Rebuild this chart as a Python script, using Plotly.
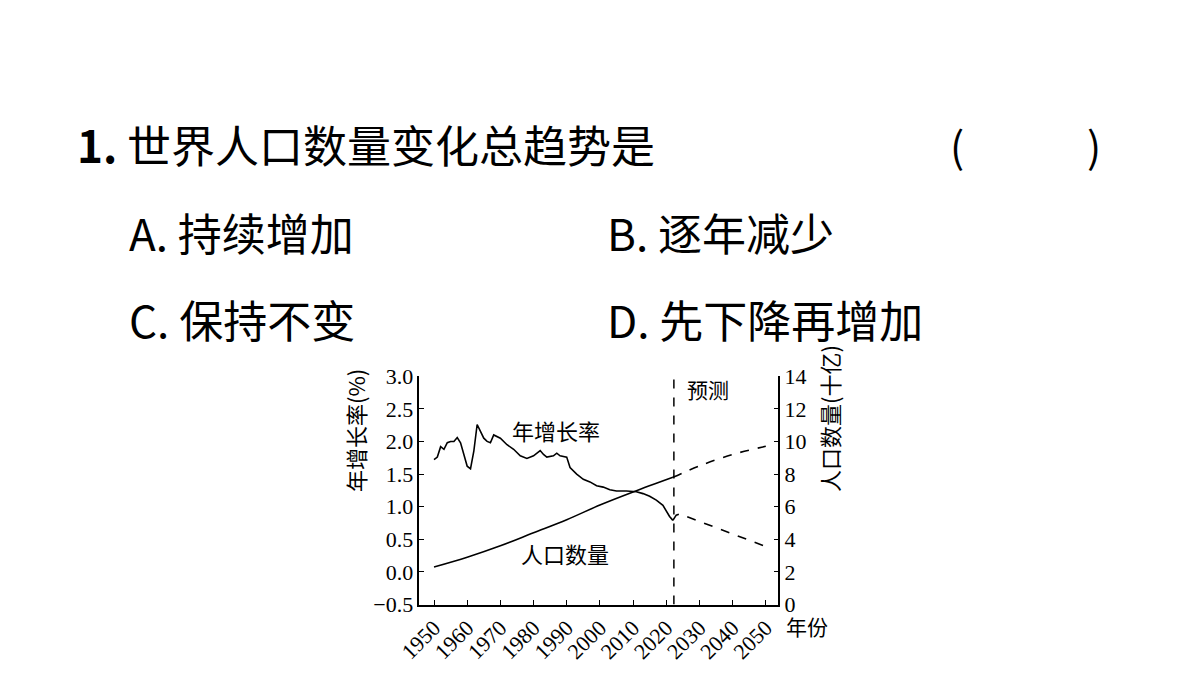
import plotly.graph_objects as go

# growth rate (%), observed
rate_years = [1950, 1951, 1952, 1953, 1954, 1955, 1956, 1957, 1958, 1959, 1960, 1961,
              1962, 1963, 1964, 1965, 1966, 1967, 1968, 1969, 1970, 1972, 1974, 1976,
              1978, 1980, 1982, 1983, 1984, 1986, 1987, 1988, 1990, 1991, 1993, 1995,
              1997, 1999, 2001, 2003, 2005, 2008, 2011, 2013, 2015, 2017, 2019, 2021, 2022]
rate_vals = [1.72, 1.76, 1.92, 1.88, 1.98, 2.0, 2.0, 2.06, 1.98, 1.8, 1.62, 1.58,
             1.85, 2.26, 2.15, 2.05, 2.0, 1.98, 2.1, 2.08, 2.05, 1.95, 1.88, 1.78,
             1.74, 1.78, 1.86, 1.8, 1.76, 1.78, 1.82, 1.78, 1.76, 1.6, 1.5, 1.42,
             1.38, 1.32, 1.3, 1.26, 1.24, 1.24, 1.23, 1.2, 1.16, 1.1, 1.02, 0.85, 0.79]
# growth rate forecast
rate_fc_years = [2022, 2023, 2024, 2050]
rate_fc_vals = [0.79, 0.87, 0.89, 0.39]

# population (billion)
pop_years = [1950, 1960, 1970, 1980, 1990, 2000, 2010, 2022]
pop_vals = [2.3, 2.9, 3.6, 4.4, 5.2, 6.1, 6.9, 7.8]
pop_fc_years = [2022, 2030, 2040, 2050]
pop_fc_vals = [7.8, 8.5, 9.2, 9.7]

x_ticks = [1950, 1960, 1970, 1980, 1990, 2000, 2010, 2020, 2030, 2040, 2050]
forecast_year = 2022.3

FONT = "Noto Sans CJK SC"
line = dict(color="black", width=1.6)

fig = go.Figure()
fig.add_trace(go.Scatter(x=rate_years, y=rate_vals, mode="lines", line=line))
fig.add_trace(go.Scatter(x=rate_fc_years, y=rate_fc_vals, mode="lines",
                         line=dict(color="black", width=1.6, dash="dash")))
fig.add_trace(go.Scatter(x=pop_years, y=pop_vals, mode="lines", line=line,
                         line_shape="spline", yaxis="y2"))
fig.add_trace(go.Scatter(x=pop_fc_years, y=pop_fc_vals, mode="lines", line_shape="spline",
                         line=dict(color="black", width=1.6, dash="dash"), yaxis="y2"))

fig.add_shape(type="line", x0=forecast_year, x1=forecast_year, y0=-0.5, y1=2.95,
              xref="x", yref="y", line=dict(color="black", width=1.5, dash="dash"))

axis_common = dict(showgrid=False, zeroline=False, showline=True, linecolor="black",
                   linewidth=1.5, ticks="inside", ticklen=5, tickcolor="black",
                   tickfont=dict(family="Liberation Serif", size=22, color="black"))

fig.update_layout(
    width=1200, height=675, showlegend=False,
    paper_bgcolor="white", plot_bgcolor="white",
    margin=dict(l=0, r=0, t=0, b=0),
    font=dict(family=FONT, color="black"),
    xaxis=dict(domain=[0.33, 0.635], range=[1945.6, 2053.8], tickvals=x_ticks,
               tickangle=-45, **axis_common),
    yaxis=dict(domain=[0.1007, 0.452], range=[-0.5, 3.0], dtick=0.5,
               tickformat=".1f", **axis_common),
    yaxis2=dict(overlaying="y", side="right", range=[0, 14], dtick=2, **axis_common),
)

ann = [
    (312, 0.27, "年增长率(%)", 22),
    (832, 0.27, "人口数量(十亿)", 22),
]
for x, y, t, s in ann:
    fig.add_annotation(x=x / 1200, y=y, xref="paper", yref="paper", text=t, showarrow=False,
                       textangle=-90, font=dict(size=s, family=FONT))

texts = [
    (45, 129, "<b>1.</b> 世界人口数量变化总趋势是", 44),
    (935, 129, "(", 42),
    (1075, 129, ")", 42),
    (98, 220, "A. 持续增加", 44),
    (585, 220, "B. 逐年减少", 44),
    (98, 310, "C. 保持不变", 44),
    (585, 310, "D. 先下降再增加", 44),
    (667, 383, "预测", 21),
    (488, 426, "年增长率", 22),
    (498, 553, "人口数量", 22),
    (768, 629, "年份", 21),
]
for x, y, t, s in texts:
    fig.add_annotation(x=x / 1200, y=1 - y / 675, xref="paper", yref="paper", text=t,
                       showarrow=False, xanchor="left", yanchor="middle",
                       font=dict(size=s, family=FONT, color="black"))

fig.write_html("out.html")
